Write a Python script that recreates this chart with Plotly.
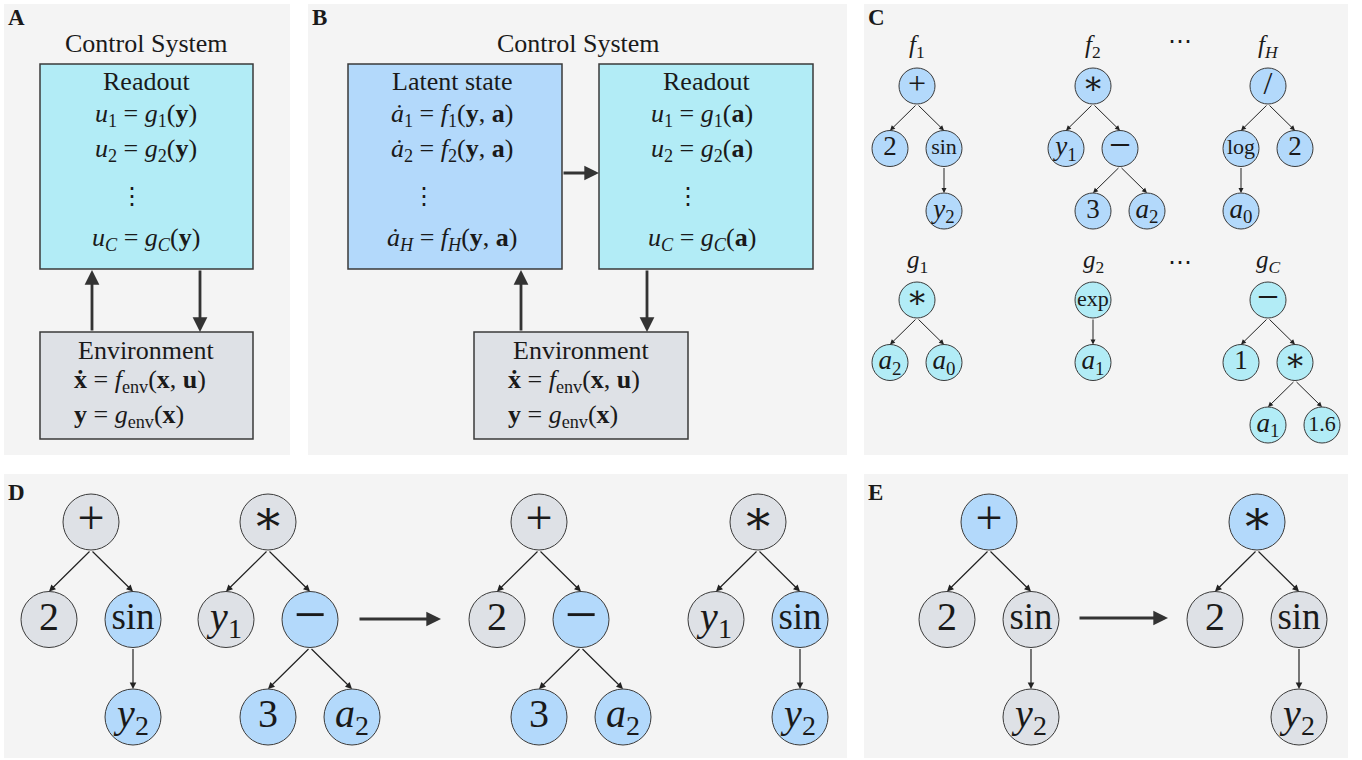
import plotly.graph_objects as go

# ---------------- data ----------------
panel_labels = ["A", "B", "C", "D", "E"]
title_text = "Control System"

readout_title = "Readout"
latent_title = "Latent state"
env_title = "Environment"

a_readout_eqs = [
    "<i>u</i><sub>1</sub> = <i>g</i><sub>1</sub>(<b>y</b>)",
    "<i>u</i><sub>2</sub> = <i>g</i><sub>2</sub>(<b>y</b>)",
    "<i>u</i><sub><i>C</i></sub> = <i>g</i><sub><i>C</i></sub>(<b>y</b>)",
]
b_latent_eqs = [
    "<i>ȧ</i><sub>1</sub> = <i>f</i><sub>1</sub>(<b>y</b>, <b>a</b>)",
    "<i>ȧ</i><sub>2</sub> = <i>f</i><sub>2</sub>(<b>y</b>, <b>a</b>)",
    "<i>ȧ</i><sub><i>H</i></sub> = <i>f</i><sub><i>H</i></sub>(<b>y</b>, <b>a</b>)",
]
b_readout_eqs = [
    "<i>u</i><sub>1</sub> = <i>g</i><sub>1</sub>(<b>a</b>)",
    "<i>u</i><sub>2</sub> = <i>g</i><sub>2</sub>(<b>a</b>)",
    "<i>u</i><sub><i>C</i></sub> = <i>g</i><sub><i>C</i></sub>(<b>a</b>)",
]
env_eqs = [
    "<b>ẋ</b> = <i>f</i><sub>env</sub>(<b>x</b>, <b>u</b>)",
    "<b>y</b> = <i>g</i><sub>env</sub>(<b>x</b>)",
]

# panel C: expression trees (labels + parent index)
c_f_names = ["<i>f</i><sub>1</sub>", "<i>f</i><sub>2</sub>", "<i>f</i><sub><i>H</i></sub>"]
c_g_names = ["<i>g</i><sub>1</sub>", "<i>g</i><sub>2</sub>", "<i>g</i><sub><i>C</i></sub>"]

f1_labels = ["+", "2", "sin", "<i>y</i><sub>2</sub>"]
f1_parents = [-1, 0, 0, 2]
f2_labels = ["∗", "<i>y</i><sub>1</sub>", "−", "3", "<i>a</i><sub>2</sub>"]
f2_parents = [-1, 0, 0, 2, 2]
fH_labels = ["/", "log", "2", "<i>a</i><sub>0</sub>"]
fH_parents = [-1, 0, 0, 1]
g1_labels = ["∗", "<i>a</i><sub>2</sub>", "<i>a</i><sub>0</sub>"]
g1_parents = [-1, 0, 0]
g2_labels = ["exp", "<i>a</i><sub>1</sub>"]
g2_parents = [-1, 0]
gC_labels = ["−", "1", "∗", "<i>a</i><sub>1</sub>", "1.6"]
gC_parents = [-1, 0, 0, 2, 2]

# panel D: crossover (1 = highlighted subtree)
d_before1_labels = f1_labels
d_before1_parents = f1_parents
d_before1_hl = [0, 0, 1, 1]
d_before2_labels = f2_labels
d_before2_parents = f2_parents
d_before2_hl = [0, 0, 1, 1, 1]
d_after1_labels = ["+", "2", "−", "3", "<i>a</i><sub>2</sub>"]
d_after1_parents = [-1, 0, 0, 2, 2]
d_after1_hl = [0, 0, 1, 1, 1]
d_after2_labels = ["∗", "<i>y</i><sub>1</sub>", "sin", "<i>y</i><sub>2</sub>"]
d_after2_parents = [-1, 0, 0, 2]
d_after2_hl = [0, 0, 1, 1]

# panel E: point mutation
e_before_labels = f1_labels
e_before_parents = f1_parents
e_before_hl = [1, 0, 0, 0]
e_after_labels = ["∗", "2", "sin", "<i>y</i><sub>2</sub>"]
e_after_parents = [-1, 0, 0, 2]
e_after_hl = [1, 0, 0, 0]

# ---------------- styles ----------------
W, H = 1362, 760
FONT = "Liberation Serif, DejaVu Serif, serif"
PANEL_BG = "#f4f4f4"
BLUE = "#b3d9fb"
CYAN = "#b2ecf6"
GRAY = "#dee1e6"
EDGE = "#3a3a3a"
TXT = "#1a1a1a"
BOX_FS = 26

fig = go.Figure()
shapes = []
annotations = []


def rect(x0, y0, x1, y1, fill, line_w=0, line_c=EDGE):
    shapes.append(dict(type="rect", xref="x", yref="y", x0=x0, y0=y0, x1=x1, y1=y1,
                       fillcolor=fill, line=dict(width=line_w, color=line_c), layer="below"))


def text(x, y, s, size=BOX_FS, xanchor="center", bold=False, color=TXT):
    if bold:
        s = "<b>" + s + "</b>"
    annotations.append(dict(x=x, y=y, xref="x", yref="y", text=s, showarrow=False,
                            xanchor=xanchor, yanchor="middle",
                            font=dict(family=FONT, size=size, color=color)))


def arrow(x0, y0, x1, y1, width=2.8, size=1.05, color="#333333"):
    annotations.append(dict(x=x1, y=y1, ax=x0, ay=y0, xref="x", yref="y", axref="x", ayref="y",
                            text="", showarrow=True, arrowhead=2, arrowsize=size,
                            arrowwidth=width, arrowcolor=color, standoff=0, startstandoff=0))


# panel backgrounds
panel_boxes = [(4, 4, 290, 455), (308, 4, 847, 455), (864, 4, 1348, 455),
               (4, 474, 847, 758), (864, 474, 1348, 758)]
panel_letter_pos = [(6, 17), (310, 17), (866, 17), (6, 492), (866, 492)]
for (x0, y0, x1, y1) in panel_boxes:
    rect(x0, y0, x1, y1, PANEL_BG)
for lab, (x, y) in zip(panel_labels, panel_letter_pos):
    text(x, y, lab, size=23, xanchor="left", bold=True)

# ---- panel A ----
text(146, 43, title_text)
rect(40, 64, 253, 269, CYAN, 1.5)
text(146, 81, readout_title)
for s, y in zip(a_readout_eqs, [115, 150, 239]):
    text(146, y, s)
text(132, 196, "⋮", size=24)
rect(40, 332, 253, 439, GRAY, 1.5)
text(146, 350, env_title)
for s, y in zip(env_eqs, [381, 416]):
    text(72, y, s, xanchor="left")
arrow(92, 332, 92, 270)
arrow(200, 269, 200, 332)

# ---- panel B ----
text(578, 43, title_text)
rect(348, 64, 562, 269, BLUE, 1.5)
text(452, 81, latent_title)
for s, y in zip(b_latent_eqs, [115, 150, 239]):
    text(452, y, s)
text(424, 196, "⋮", size=24)
rect(599, 64, 813, 269, CYAN, 1.5)
text(706, 81, readout_title)
for s, y in zip(b_readout_eqs, [115, 150, 239]):
    text(702, y, s)
text(688, 196, "⋮", size=24)
rect(474, 332, 688, 439, GRAY, 1.5)
text(581, 350, env_title)
for s, y in zip(env_eqs, [381, 416]):
    text(506, y, s, xanchor="left")
arrow(562, 173, 599, 173)
arrow(521, 332, 521, 270)
arrow(647, 269, 647, 332)


# ---- trees ----
def layout_tree(parents, root, dx, dy):
    n = len(parents)
    pos = [None] * n
    pos[0] = root
    order = [0]
    for i in order:
        ch = [j for j in range(n) if parents[j] == i]
        offs = [0] if len(ch) == 1 else [-dx, dx]
        for c, o in zip(ch, offs):
            pos[c] = (pos[i][0] + o, pos[i][1] + dy)
            order.append(c)
    return pos


def draw_tree(labels, parents, colors, root, dx, dy, r, fsize, wsize, ew, asz):
    pos = layout_tree(parents, root, dx, dy)
    for j, p in enumerate(parents):
        if p >= 0:
            px, py = pos[p]
            cx, cy = pos[j]
            arrow(px, py + r, cx, cy - r, width=ew, size=asz, color="#222222")
    sizes = []
    for lab in labels:
        if lab in ("sin", "log", "exp", "1.6"):
            sizes.append(wsize)
        elif lab == "−":
            sizes.append(round(fsize * 1.45))
        elif lab in ("+", "∗", "/"):
            sizes.append(round(fsize * 1.2))
        else:
            sizes.append(fsize)
    fig.add_trace(go.Scatter(
        x=[p[0] for p in pos], y=[p[1] for p in pos], mode="markers+text",
        text=labels, textposition="middle center",
        textfont=dict(family=FONT, size=sizes, color=TXT),
        marker=dict(size=2 * r, color=colors, line=dict(width=1, color=EDGE)),
        hoverinfo="skip", showlegend=False, cliponaxis=False))


c_roots_x = [917, 1093, 1268]
for lbls, pars, nm, rx in zip([f1_labels, f2_labels, fH_labels], [f1_parents, f2_parents, fH_parents],
                              c_f_names, c_roots_x):
    text(rx, 46, nm, size=25)
    draw_tree(lbls, pars, [BLUE] * len(lbls), (rx, 86), 27, 62.5, 18, 27, 22, 1, 1.0)
for lbls, pars, nm, rx in zip([g1_labels, g2_labels, gC_labels], [g1_parents, g2_parents, gC_parents],
                              c_g_names, c_roots_x):
    text(rx, 261, nm, size=25)
    draw_tree(lbls, pars, [CYAN] * len(lbls), (rx, 300), 27, 62.5, 18, 27, 22, 1, 1.0)
text(1180, 41, "⋯", size=24)
text(1180, 262, "⋯", size=24)


def hl_colors(hl):
    return [BLUE if h else GRAY for h in hl]


d_trees = [(d_before1_labels, d_before1_parents, d_before1_hl, 91),
           (d_before2_labels, d_before2_parents, d_before2_hl, 268),
           (d_after1_labels, d_after1_parents, d_after1_hl, 539),
           (d_after2_labels, d_after2_parents, d_after2_hl, 758)]
for lbls, pars, hl, rx in d_trees:
    draw_tree(lbls, pars, hl_colors(hl), (rx, 522), 42, 97.5, 28, 40, 37, 1.2, 1.1)
arrow(358, 619, 441, 619)

e_trees = [(e_before_labels, e_before_parents, e_before_hl, 989),
           (e_after_labels, e_after_parents, e_after_hl, 1257)]
for lbls, pars, hl, rx in e_trees:
    draw_tree(lbls, pars, hl_colors(hl), (rx, 522), 42, 97.5, 28, 40, 37, 1.2, 1.1)
arrow(1078, 618, 1168, 618)

fig.update_layout(
    width=W, height=H, margin=dict(l=0, r=0, t=0, b=0),
    paper_bgcolor="white", plot_bgcolor="white",
    xaxis=dict(range=[0, W], visible=False, fixedrange=True),
    yaxis=dict(range=[H, 0], visible=False, fixedrange=True),
    shapes=shapes, annotations=annotations, showlegend=False,
)
# remove the browser's default page margin so the figure sits at the window's corner
fig.write_html("out.html", config={"displayModeBar": False},
               post_script="document.body.style.margin='0';")
